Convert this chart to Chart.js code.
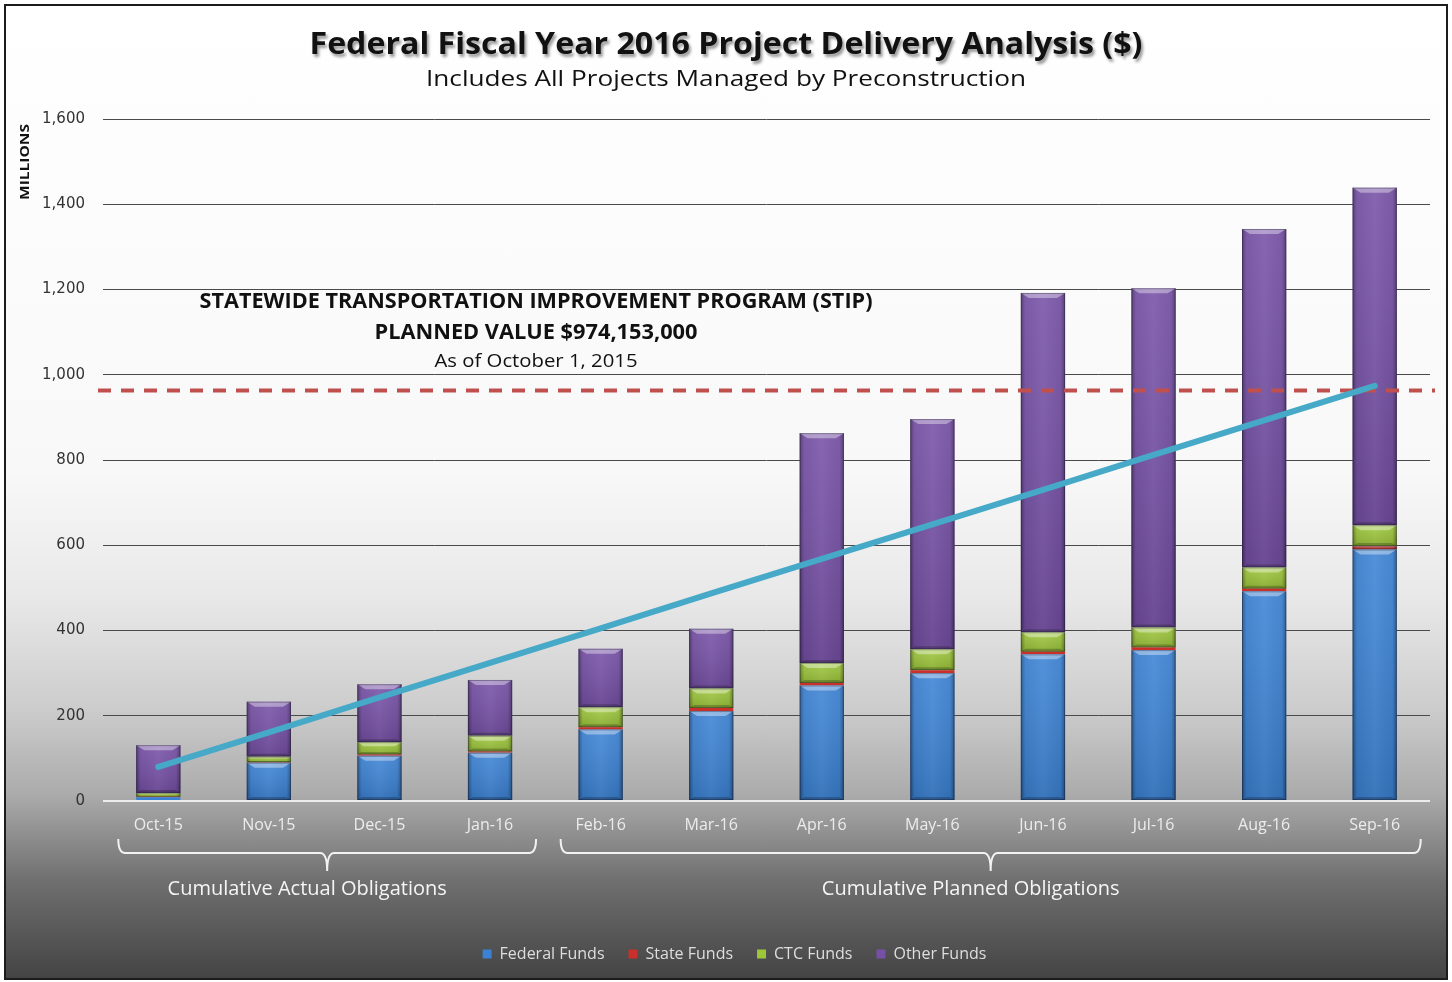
<!DOCTYPE html>
<html>
<head>
<meta charset="utf-8">
<title>FFY 2016 Project Delivery Analysis</title>
<script src="https://cdn.jsdelivr.net/npm/chart.js@4.4.1/dist/chart.umd.min.js"></script>
<style>
  html, body { margin: 0; padding: 0; background: #fff; }
  #wrap { position: relative; width: 1452px; height: 982px; overflow: hidden; }
  #frame {
    position: absolute; left: 4px; top: 4px; width: 1440px; height: 972px;
    border: 2px solid #1c1c1c;
    background: linear-gradient(to bottom, #ffffff 0%, #f8f8f8 48%, #e8e8e8 61%, #cdcdcd 72%, #acacac 81%, #6f6f6f 90%, #444444 100%);
  }
  canvas { position: absolute; left: 0; top: 0; }
</style>
</head>
<body>
<div id="wrap">
  <div id="frame"></div>
  <canvas id="progressChart" width="1452" height="982"></canvas>
</div>
<script>
// months of FFY 2016
const months = ['Oct-15', 'Nov-15', 'Dec-15', 'Jan-16', 'Feb-16', 'Mar-16', 'Apr-16', 'May-16', 'Jun-16', 'Jul-16', 'Aug-16', 'Sep-16'];

// cumulative obligations, $ millions
const federalFunds = [9, 90, 106, 113, 168, 211, 271, 300, 344, 354, 492, 590];
const stateFunds   = [1, 1, 3, 3, 5, 7, 6, 7, 6, 6, 6, 8];
const ctcFunds     = [9, 13, 29, 37, 47, 46, 47, 49, 46, 47, 50, 49];
const otherFunds   = [112, 129, 136, 131, 137, 140, 539, 540, 796, 796, 794, 792];

// planned delivery line ($ millions)
const plannedLine = [80, 161, 243, 324, 405, 487, 568, 649, 730, 812, 893, 974];

// STIP planned value dashed line
const stipValue = 963;
const stipLines = ['STATEWIDE TRANSPORTATION IMPROVEMENT PROGRAM (STIP)', 'PLANNED VALUE $974,153,000', 'As of October 1, 2015'];

const yTicks = [0, 200, 400, 600, 800, 1000, 1200, 1400, 1600];

// bracket groups under the axis
const groups = [
    { label: 'Cumulative Actual Obligations', from: 0, to: 3 },
    { label: 'Cumulative Planned Obligations', from: 4, to: 11 }
];

const FONT = '"Open Sans", "DejaVu Sans", sans-serif';

// draw text squeezed/stretched to a given width
function fitText(ctx, text, cx, cy, w, font, color) {
    ctx.save();
    ctx.font = font;
    ctx.fillStyle = color;
    ctx.textAlign = 'center';
    ctx.textBaseline = 'middle';
    const m = ctx.measureText(text).width;
    ctx.translate(cx, cy);
    ctx.scale(w / m, 1);
    ctx.fillText(text, 0, 0);
    ctx.restore();
}

function brace(ctx, x1, x2, xm, yTop, yMid, yTip) {
    const r = 7;
    ctx.beginPath();
    ctx.moveTo(x1, yTop);
    ctx.quadraticCurveTo(x1, yMid, x1 + r, yMid);
    ctx.lineTo(xm - r, yMid);
    ctx.quadraticCurveTo(xm, yMid, xm, yTip);
    ctx.quadraticCurveTo(xm, yMid, xm + r, yMid);
    ctx.lineTo(x2 - r, yMid);
    ctx.quadraticCurveTo(x2, yMid, x2, yTop);
    ctx.stroke();
}

const decor = {
    id: 'decor',
    // dashed STIP line sits over the bars, under the planned line
    beforeDatasetDraw(chart, args) {
        if (chart.data.datasets[args.index].type !== 'line') return;
        const { ctx, chartArea } = chart;
        const y = chart.scales.y.getPixelForValue(stipValue);
        ctx.save();
        ctx.strokeStyle = '#c0504d';
        ctx.lineWidth = 4;
        ctx.setLineDash([13, 10]);
        ctx.beginPath();
        ctx.moveTo(chartArea.left - 5, y);
        ctx.lineTo(chartArea.right + 5, y);
        ctx.stroke();
        ctx.restore();
    },
    // bevel look on each bar segment
    afterDatasetDraw(chart, args) {
        if (chart.data.datasets[args.index].type !== 'bar') return;
        const ctx = chart.ctx;
        const meta = chart.getDatasetMeta(args.index);
        ctx.save();
        meta.data.forEach(bar => {
            const { x, y, base, width } = bar.getProps(['x', 'y', 'base', 'width'], true);
            const left = x - width / 2, right = x + width / 2;
            const top = Math.min(y, base), bottom = Math.max(y, base);
            const h = bottom - top;
            if (h < 3) return;
            const g = ctx.createLinearGradient(left, 0, right, 0);
            g.addColorStop(0, 'rgba(0,0,0,0.38)');
            g.addColorStop(0.1, 'rgba(0,0,0,0.04)');
            g.addColorStop(0.5, 'rgba(255,255,255,0.05)');
            g.addColorStop(0.9, 'rgba(0,0,0,0.04)');
            g.addColorStop(1, 'rgba(0,0,0,0.38)');
            ctx.fillStyle = g;
            ctx.fillRect(left, top, width, h);
            const v = ctx.createLinearGradient(0, top, 0, bottom);
            v.addColorStop(0, 'rgba(255,255,255,0.08)');
            v.addColorStop(1, 'rgba(0,0,0,0.12)');
            ctx.fillStyle = v;
            ctx.fillRect(left, top, width, h);
            const b = Math.min(5, h / 3);
            ctx.fillStyle = 'rgba(255,255,255,0.38)';
            ctx.beginPath();
            ctx.moveTo(left, top);
            ctx.lineTo(right, top);
            ctx.lineTo(right - b * 1.6, top + b);
            ctx.lineTo(left + b * 1.6, top + b);
            ctx.closePath();
            ctx.fill();
            ctx.fillStyle = 'rgba(0,0,0,0.22)';
            ctx.beginPath();
            ctx.moveTo(left, bottom);
            ctx.lineTo(right, bottom);
            ctx.lineTo(right - b, bottom - b * 0.6);
            ctx.lineTo(left + b, bottom - b * 0.6);
            ctx.closePath();
            ctx.fill();
            ctx.strokeStyle = 'rgba(20,20,40,0.35)';
            ctx.lineWidth = 1;
            ctx.strokeRect(left + 0.5, top + 0.5, width - 1, h - 1);
        });
        ctx.restore();
    },
    afterDraw(chart) {
        const { ctx, chartArea } = chart;
        const xs = chart.scales.x;

        // title with soft shadow
        ctx.save();
        ctx.shadowColor = 'rgba(0,0,0,0.4)';
        ctx.shadowOffsetX = 2;
        ctx.shadowOffsetY = 3;
        ctx.shadowBlur = 3;
        fitText(ctx, 'Federal Fiscal Year 2016 Project Delivery Analysis ($)', 726, 45, 833, 'bold 31px ' + FONT, '#111');
        ctx.restore();
        fitText(ctx, 'Includes All Projects Managed by Preconstruction', 726, 80, 600, '22px ' + FONT, '#111');

        // y axis unit
        ctx.save();
        ctx.translate(25, 162);
        ctx.rotate(-Math.PI / 2);
        fitText(ctx, 'MILLIONS', 0, 0, 76, 'bold 13px ' + FONT, '#111');
        ctx.restore();

        // STIP note
        const cx = chartArea.left + 433;
        fitText(ctx, stipLines[0], cx, 302, 673, 'bold 21px ' + FONT, '#111');
        fitText(ctx, stipLines[1], cx, 333, 323, 'bold 22px ' + FONT, '#111');
        fitText(ctx, stipLines[2], cx, 362, 203, '19px ' + FONT, '#111');

        // brackets + group labels
        ctx.save();
        ctx.strokeStyle = '#f2f2f2';
        ctx.lineWidth = 2;
        groups.forEach(gr => {
            const x1 = xs.getPixelForValue(gr.from) - 40;
            const x2 = xs.getPixelForValue(gr.to) + 46;
            const xm = (x1 + x2) / 2;
            brace(ctx, x1, x2, xm, 839, 853, 871);
            ctx.font = '20px ' + FONT;
            ctx.fillStyle = '#f5f5f5';
            ctx.textAlign = 'center';
            ctx.textBaseline = 'middle';
            ctx.fillText(gr.label, xm - 20, 889);
        });
        ctx.restore();
    }
};

const barBase = { type: 'bar', stack: 'funds', order: 1, barPercentage: 0.4, categoryPercentage: 1, borderWidth: 0 };

const ctx = document.getElementById('progressChart').getContext('2d');
const chartInstance = new Chart(ctx, {
    data: {
        labels: months,
        datasets: [
            { ...barBase, label: 'Federal Funds', data: federalFunds, backgroundColor: '#3b82d4' },
            { ...barBase, label: 'State Funds', data: stateFunds, backgroundColor: '#c9302c' },
            { ...barBase, label: 'CTC Funds', data: ctcFunds, backgroundColor: '#9dc63b' },
            { ...barBase, label: 'Other Funds', data: otherFunds, backgroundColor: '#7650a6' },
            {
                type: 'line', label: 'Planned', data: plannedLine, stack: 'plan', order: 0,
                borderColor: '#45a9c7', borderWidth: 6, pointRadius: 0, tension: 0,
                borderCapStyle: 'round', fill: false
            }
        ]
    },
    options: {
        responsive: false,
        devicePixelRatio: 1,
        animation: false,
        layout: { padding: { top: 119, left: 17, right: 0, bottom: 10 } },
        plugins: {
            tooltip: { enabled: false },
            title: { display: false },
            legend: {
                display: true,
                position: 'bottom',
                labels: {
                    filter: item => item.text !== 'Planned',
                    boxWidth: 9,
                    boxHeight: 9,
                    padding: 24,
                    color: '#dedede',
                    font: { family: FONT, size: 16 }
                }
            }
        },
        scales: {
            x: {
                stacked: true,
                grid: { display: false, drawTicks: false },
                border: { display: false },
                ticks: { color: '#ececec', padding: 15, font: { family: FONT, size: 16 } },
                afterFit: s => { s.height = 121; s.paddingLeft = 0; s.paddingRight = 22; }
            },
            y: {
                stacked: true,
                min: 0,
                max: 1600,
                afterBuildTicks: s => { s.ticks = yTicks.map(v => ({ value: v })); },
                grid: {
                    drawTicks: false,
                    color: c => c.tick && c.tick.value === 0 ? '#ececec' : '#4a4a4a',
                    lineWidth: c => c.tick && c.tick.value === 0 ? 2 : 1
                },
                border: { display: false },
                ticks: {
                    color: '#333',
                    padding: 18,
                    font: { family: '"DejaVu Sans", sans-serif', size: 15 },
                    callback: v => v.toLocaleString('en-US')
                },
                afterFit: s => { s.width = 86; }
            }
        }
    },
    plugins: [decor]
});
</script>
</body>
</html>
